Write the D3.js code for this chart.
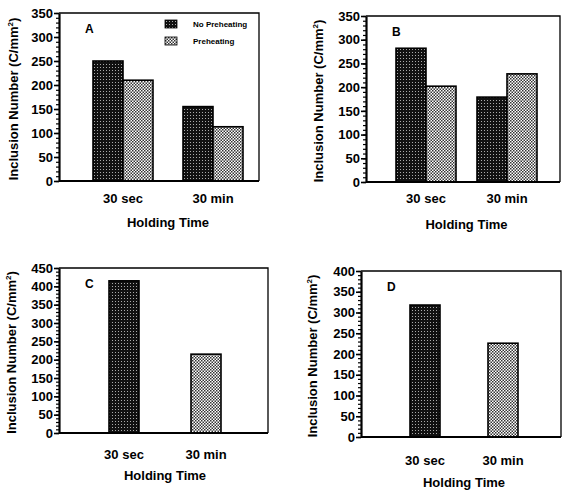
<!DOCTYPE html>
<html>
<head>
<meta charset="utf-8">
<script src="https://cdn.jsdelivr.net/npm/d3@7"></script>
<style>
  body { margin: 0; background: #fff; }
  text { font-family: "Liberation Sans", Arial, sans-serif; fill: #000; }
</style>
</head>
<body>
<svg width="563" height="490"></svg>
<script>
// data
const categories = ['30 sec', '30 min']
const series = ['No Preheating', 'Preheating']
const noPreheatA = [250, 155]
const preheatA = [210, 113]
const noPreheatB = [282, 179]
const preheatB = [202, 228]
const seriesCD = ['No Preheating', 'Preheating'] // one bar per category in C and D
const valuesC = [415, 215]
const valuesD = [318, 226]
const ticks350 = [0, 50, 100, 150, 200, 250, 300, 350]
const ticks450 = [0, 50, 100, 150, 200, 250, 300, 350, 400, 450]
const ticks400 = [0, 50, 100, 150, 200, 250, 300, 350, 400]

function grouped (a, b) {
  const out = []
  categories.forEach(function (c, i) {
    out.push({ cat: c, s: series[0], v: a[i] })
    out.push({ cat: c, s: series[1], v: b[i] })
  })
  return out
}
function single (vals) {
  return categories.map(function (c, i) { return { cat: c, s: seriesCD[i], v: vals[i] } })
}

const panels = [
  { name: 'A', left: 59, right: 259, top: 13, bottom: 181, centers: [123, 213], ticks: ticks350, bars: grouped(noPreheatA, preheatA), group: true, legend: true, ylabX: 18, xlabY: 203, titleY: 227 },
  { name: 'B', left: 366, right: 560, top: 16, bottom: 182, centers: [426, 507], ticks: ticks350, bars: grouped(noPreheatB, preheatB), group: true, ylabX: 323, xlabY: 203, titleY: 229 },
  { name: 'C', left: 59, right: 268, top: 268, bottom: 433, centers: [124, 206], ticks: ticks450, bars: single(valuesC), group: false, ylabX: 16, xlabY: 459, titleY: 480 },
  { name: 'D', left: 361, right: 561, top: 271, bottom: 437, centers: [425, 503], ticks: ticks400, bars: single(valuesD), group: false, ylabX: 317, xlabY: 465, titleY: 487 }
]

const svg = d3.select('svg')
const defs = svg.append('defs')

// dark stipple: black with white specks
const pd = defs.append('pattern').attr('id', 'dark').attr('patternUnits', 'userSpaceOnUse')
  .attr('width', 3).attr('height', 3)
pd.append('rect').attr('width', 3).attr('height', 3).attr('fill', '#111')
pd.append('rect').attr('x', 1).attr('y', 1).attr('width', 1).attr('height', 1).attr('fill', '#aaa')
// light stipple: white with black dots
const pl = defs.append('pattern').attr('id', 'light').attr('patternUnits', 'userSpaceOnUse')
  .attr('width', 3).attr('height', 3)
pl.append('rect').attr('width', 3).attr('height', 3).attr('fill', '#fff')
pl.append('rect').attr('x', 0).attr('y', 0).attr('width', 1.5).attr('height', 1.5).attr('fill', '#333')
pl.append('rect').attr('x', 1.5).attr('y', 1.5).attr('width', 1.5).attr('height', 1.5).attr('fill', '#333')

const fillFor = function (s) { return s === series[0] ? 'url(#dark)' : 'url(#light)' }

panels.forEach(function (p) {
  const max = p.ticks[p.ticks.length - 1]
  const y = d3.scaleLinear().domain([0, max]).range([p.bottom, p.top])
  const x = d3.scalePoint().domain(categories).range(p.centers)
  const inner = d3.scaleBand().domain(series).range([-30, 30])
  const g = svg.append('g')

  // frame (thin top/right)
  g.append('path')
    .attr('d', 'M' + p.left + ',' + p.top + 'H' + p.right + 'V' + p.bottom)
    .attr('fill', 'none').attr('stroke', '#000').attr('stroke-width', 1.3)

  // bars
  g.selectAll('rect.bar').data(p.bars).enter().append('rect')
    .attr('class', 'bar')
    .attr('x', function (d) { return p.group ? x(d.cat) + inner(d.s) : x(d.cat) - 15 })
    .attr('width', p.group ? inner.bandwidth() : 30)
    .attr('y', function (d) { return y(d.v) })
    .attr('height', function (d) { return y(0) - y(d.v) })
    .attr('fill', function (d) { return fillFor(d.s) })
    .attr('stroke', '#000').attr('stroke-width', 1.6)

  // minor ticks
  const minor = g.append('g').attr('transform', 'translate(' + p.left + ',0)')
    .call(d3.axisLeft(y).tickValues(d3.range(0, max + 1, 10)).tickSize(3).tickFormat(''))
  minor.select('.domain').remove()
  minor.selectAll('line').attr('stroke-width', 1.2)

  // major axis
  const ax = g.append('g').attr('transform', 'translate(' + p.left + ',0)')
    .call(d3.axisLeft(y).tickValues(p.ticks).tickSize(5).tickPadding(1).tickSizeOuter(0))
  ax.select('.domain').attr('stroke-width', 2.2)
  ax.selectAll('line').attr('stroke-width', 1.6)
  ax.selectAll('text').attr('font-size', 13).attr('font-weight', 'bold')
    .attr('font-family', '"Liberation Sans", Arial, sans-serif')

  // bottom line
  g.append('line').attr('x1', p.left).attr('x2', p.right)
    .attr('y1', p.bottom).attr('y2', p.bottom)
    .attr('stroke', '#000').attr('stroke-width', 2.2)

  // category labels
  g.selectAll('text.cat').data(categories).enter().append('text')
    .attr('class', 'cat')
    .attr('x', function (d) { return x(d) })
    .attr('y', p.xlabY)
    .attr('text-anchor', 'middle').attr('font-size', 13).attr('font-weight', 'bold')
    .text(function (d) { return d })

  g.append('text')
    .attr('x', (p.centers[0] + p.centers[1]) / 2)
    .attr('y', p.titleY)
    .attr('text-anchor', 'middle').attr('font-size', 13).attr('font-weight', 'bold')
    .text('Holding Time')

  const yl = g.append('text')
    .attr('transform', 'translate(' + p.ylabX + ',' + ((p.top + p.bottom) / 2 + 2) + ') rotate(-90)')
    .attr('text-anchor', 'middle').attr('font-size', 13).attr('font-weight', 'bold')
  yl.append('tspan').text('Inclusion Number (C/mm')
  yl.append('tspan').attr('font-size', 8).attr('dy', -5).text('2')
  yl.append('tspan').attr('dy', 5).text(')')

  // panel letter
  g.append('text')
    .attr('x', p.left + 26).attr('y', p.top + 20)
    .attr('font-size', 12).attr('font-weight', 'bold')
    .text(p.name)

  if (p.legend) {
    const lg = g.selectAll('g.leg').data(series).enter().append('g')
      .attr('class', 'leg')
      .attr('transform', function (d, i) { return 'translate(165,' + (20 + i * 17) + ')' })
    lg.append('rect').attr('width', 12).attr('height', 8)
      .attr('fill', function (d) { return fillFor(d) })
      .attr('stroke', '#000').attr('stroke-width', 0.8)
    lg.append('text').attr('x', 28).attr('y', 7)
      .attr('font-size', 8).attr('font-weight', 'bold')
      .text(function (d) { return d })
  }
})
</script>
</body>
</html>
